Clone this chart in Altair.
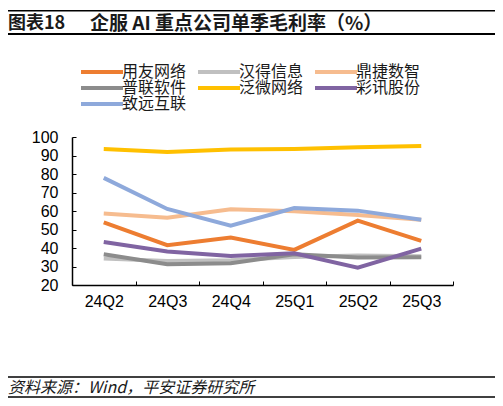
import altair as alt
import pandas as pd

# 季度与各公司单季毛利率（%）
quarters = ["24Q2", "24Q3", "24Q4", "25Q1", "25Q2", "25Q3"]
companies = ["用友网络", "汉得信息", "鼎捷数智", "普联软件", "泛微网络", "彩讯股份", "致远互联"]
yonyou = [53.8, 41.5, 45.7, 39.0, 54.8, 43.9]
hand = [34.3, 33.0, 33.4, 35.2, 36.0, 35.5]
dingjie = [58.6, 56.4, 60.9, 59.8, 57.8, 55.3]
pulian = [36.6, 31.2, 31.8, 36.6, 34.8, 35.0]
fanwei = [93.5, 91.9, 93.3, 93.5, 94.4, 95.2]
caixun = [43.2, 38.1, 35.7, 37.2, 29.4, 39.7]
zhiyuan = [77.9, 61.1, 52.0, 61.6, 60.2, 55.3]
colors = ["#ED7D31", "#C0C0C0", "#F6BC8F", "#8C8C8C", "#FFC000", "#8064A2", "#8EA9DB"]

series = [yonyou, hand, dingjie, pulian, fanwei, caixun, zhiyuan]
rows = []
for i, (name, vals) in enumerate(zip(companies, series)):
    for q, v in zip(quarters, vals):
        rows.append({"公司": name, "季度": q, "毛利率": v, "序": i})
df = pd.DataFrame(rows)

FONT_CJK = "Noto Sans CJK SC"
FONT_NUM = "Liberation Sans"

lines = (
    alt.Chart(df)
    .mark_line(strokeWidth=4, strokeCap="butt")
    .encode(
        x=alt.X(
            "季度:N",
            sort=quarters,
            bandPosition=0.5,
            scale=alt.Scale(type="band", paddingInner=0, paddingOuter=0),
            title=None,
            axis=alt.Axis(
                labelAngle=0,
                labelFont=FONT_NUM,
                labelFontSize=16,
                labelColor="#000000",
                labelPadding=12,
                tickBand="extent",
                tickSize={"expr": "-4"},
                tickColor="#000000",
                domainColor="#000000",
                domainWidth=1.5,
                grid=False,
            ),
        ),
        y=alt.Y(
            "毛利率:Q",
            scale=alt.Scale(domain=[20, 100], nice=False, zero=False),
            title=None,
            axis=alt.Axis(
                values=list(range(20, 101, 10)),
                labelFont=FONT_NUM,
                labelFontSize=16,
                labelColor="#000000",
                labelPadding=18,
                tickSize={"expr": "-4"},
                tickColor="#000000",
                domainColor="#000000",
                domainWidth=1.5,
                grid=False,
            ),
        ),
        color=alt.Color(
            "公司:N",
            sort=companies,
            scale=alt.Scale(domain=companies, range=colors),
            legend=alt.Legend(
                title=None,
                orient="none",
                direction="horizontal",
                legendX=5,
                legendY=-73,
                columns=3,
                columnPadding=3,
                rowPadding=0,
                padding=0,
                symbolType="M-2,0H19",
                symbolSize=16,
                symbolStrokeWidth=4,
                labelOffset=29,
                labelFont=FONT_CJK,
                labelFontSize=16,
                labelColor="#1a1a1a",
            ),
        ),
        order="序:Q",
    )
)


def rule(name, y, width):
    return (
        alt.Chart(pd.DataFrame({name: [0]}))
        .mark_rule(color="#000000", strokeWidth=width)
        .encode(x=alt.value(-64), x2=alt.value(423), y=alt.value(y))
    )


def band(name, y, y2):
    return (
        alt.Chart(pd.DataFrame({name: [0]}))
        .mark_rect(color="#000000")
        .encode(x=alt.value(-64), x2=alt.value(423), y=alt.value(y), y2=alt.value(y2))
    )


def label(text, x, y, size, **kw):
    return (
        alt.Chart(pd.DataFrame({"t": [text]}))
        .mark_text(align="left", baseline="middle", fontSize=size, color="#1a1a1a", **kw)
        .encode(x=alt.value(x), y=alt.value(y), text="t:N")
    )


title_a = label("图表18", -64, -113, 18, font=FONT_CJK, fontWeight="bold")
title_b = label("企服 AI 重点公司单季毛利率（%）", 18, -113, 19, font=FONT_CJK, fontWeight="bold")
footer = label("资料来源：Wind，平安证券研究所", -64, 251, 16, font=FONT_CJK, fontStyle="italic")

chart = (
    alt.layer(
        band("top", -127, -125.5),
        rule("under", -103, 2),
        rule("foot_top", 240, 1.5),
        rule("foot_bottom", 260, 1.5),
        lines,
        title_a,
        title_b,
        footer,
    )
    .properties(
        width=381,
        height=148,
        autosize="none",
        padding={"left": 64, "top": 129, "right": 42, "bottom": 113},
    )
    .configure_view(stroke=None)
)

chart.save("out.html", embed_options={"renderer": "svg", "actions": False})
